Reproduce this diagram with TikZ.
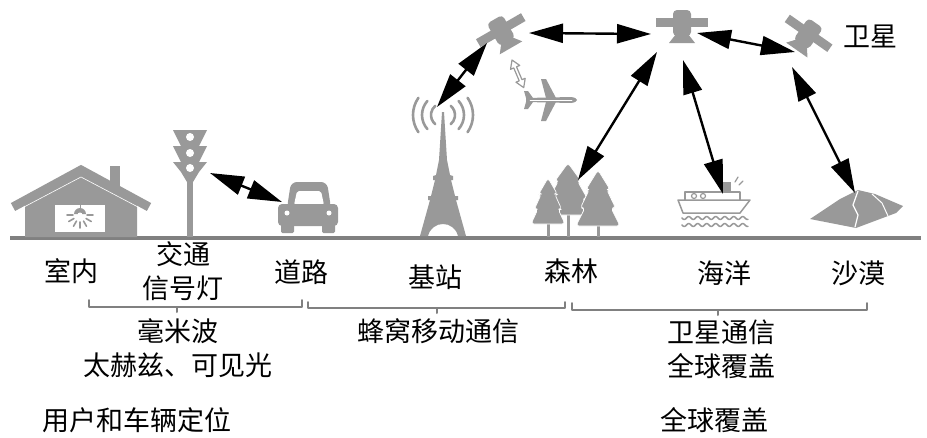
\documentclass[tikz,border=0pt]{standalone}
\usepackage{fontspec}
\usetikzlibrary{arrows.meta}
\newfontfamily\cjk{Noto Sans CJK SC}
\definecolor{ikoni}{gray}{0.6}
\definecolor{maa}{gray}{0.5}

\tikzset{
  lbl/.style={font=\cjk\fontsize{27}{34}\selectfont, align=center, inner sep=0pt},
  link/.style={{Triangle[length=34pt,width=19pt]}-{Triangle[length=34pt,width=19pt]}, line width=2.4pt, black},
  brace/.style={maa, line width=2pt},
}

\begin{document}
\begin{tikzpicture}[line cap=round,line join=round,x=1pt,y=-1pt]
\useasboundingbox (0,0) rectangle (927,437);

%maa
\draw[maa,line width=4pt,line cap=butt] (10,238)--(921,238);

%talo
\fill[ikoni] (25,237)--(25,200)--(81,172)--(137,200)--(137,237)--cycle;
\fill[ikoni] (110,166) rectangle (120,195);
\draw[ikoni,line width=9pt,line cap=butt,line join=miter] (13,207)--(81,170)--(149,207);
\draw[white,line width=0.6pt] (24,207)--(81,177)--(138,207);
\fill[white] (55,205) rectangle (105,232);
\draw[ikoni,line width=1pt] (80,205)--(80,209);
\fill[ikoni] (74,214) arc (180:360:6) -- cycle;
\fill[white] (80,215) circle (2.5);
\foreach \a in {0,30,...,180}
  \draw[ikoni,line width=1.6pt,shift={(80,215)}] (\a:7)--(\a:13);

%liikennevalo
\fill[ikoni] (187,178) rectangle (193,237);
\foreach \y in {130,146}
  \fill[ikoni] (173,\y)--(207,\y)--(199,\y+16)--(181,\y+16)--cycle;
\fill[ikoni] (173,162)--(207,162)--(199,172)--(193,182)--(187,182)--(181,172)--cycle;
\foreach \y in {137,153,168}
  \fill[white] (190,\y) circle (4);

%auto
\fill[ikoni,rounded corners=6pt] (287,208)--(291,182)--(327,182)--(331,208)--cycle;
\fill[white,rounded corners=2pt] (294,205)--(297,191)--(321,191)--(324,205)--cycle;
\fill[ikoni,rounded corners=4pt] (278,204) rectangle (338,226);
\fill[ikoni,rounded corners=1.5pt] (281,220) rectangle (294,233);
\fill[ikoni,rounded corners=1.5pt] (322,220) rectangle (335,233);
\foreach \x in {287,329}
  \fill[white] (\x,213) circle (2.5);

%masto
\fill[ikoni] (442,112)--(444,112)--(447,160)--(450,175)--(453,176)--(453,180)--(451,180)--(455,196)--(458,196)--(458,200)--(456,200)--(466,236)--(458,236) .. controls (454,220) and (432,220) .. (428,236)--(420,236)--(430,200)--(428,200)--(428,196)--(431,196)--(435,180)--(433,180)--(433,176)--(436,175)--(439,160)--cycle;
\foreach \r/\a in {12/50,21/42,30/35}
{
\draw[ikoni,line width=2.6pt] (443,115) ++(-\a:\r) arc (-\a:\a:\r);
\draw[ikoni,line width=2.6pt] (443,115) ++(180-\a:\r) arc (180-\a:180+\a:\r);
}

%satelliitit
\foreach \sx/\sy/\rot in {503/34/30, 682/27/0, 806/37/-35}
{
\begin{scope}[shift={(\sx,\sy)},rotate=\rot]
\fill[ikoni] (-26,-9) rectangle (26,0);
\fill[ikoni,rounded corners=4pt] (-9,-17) rectangle (9,9);
\fill[ikoni] (-6,7)--(6,7)--(13,16)--(-13,16)--cycle;
\end{scope}
}
\node[lbl] (weixing) at (870,36) {卫星};

%lentokone
\fill[ikoni] (526,98)--(571,97) .. controls (579,98) and (579,102) .. (571,103)--(526,102)--cycle;
\fill[ikoni] (556,98)--(546,79)--(541,79)--(546,98)--cycle;
\fill[ikoni] (556,102)--(546,121)--(541,121)--(546,102)--cycle;
\fill[ikoni] (533,98)--(528,91)--(524,91)--(526,98)--cycle;
\fill[ikoni] (533,102)--(528,109)--(524,109)--(526,102)--cycle;
\draw[white,line width=0.5pt] (530,100)--(572,100);

%pieni nuoli
\begin{scope}[shift={(512,60)},rotate=-67]
\draw[ikoni,line width=1.2pt,fill=white] (0,0)--(8,-5)--(8,-1.5)--(22,-1.5)--(22,-5)--(30,0)--(22,5)--(22,1.5)--(8,1.5)--(8,5)--cycle;
\end{scope}

%metsa
\foreach \tx/\ty/\h/\w in {568/163/52/24, 548/178/46/17, 598/170/56/22}
{
\fill[ikoni] (\tx-1.5,\ty+\h-3) rectangle (\tx+1.5,237);
\fill[ikoni,draw=white,line width=0.7pt,rounded corners=3pt] (\tx,\ty)
  --(\tx+0.55*\w,\ty+0.35*\h)--(\tx+0.4*\w,\ty+0.35*\h)
  --(\tx+0.8*\w,\ty+0.68*\h)--(\tx+0.6*\w,\ty+0.68*\h)
  --(\tx+\w,\ty+\h)--(\tx-\w,\ty+\h)
  --(\tx-0.6*\w,\ty+0.68*\h)--(\tx-0.8*\w,\ty+0.68*\h)
  --(\tx-0.4*\w,\ty+0.35*\h)--(\tx-0.55*\w,\ty+0.35*\h)--cycle;
}

%laiva
\fill[ikoni] (722,182) rectangle (731,194);
\draw[ikoni,line width=1.2pt] (735,182)--(738,177) (739,185)--(743,181);
\draw[ikoni,line width=1.5pt,fill=white] (685,200)--(685,192)--(740,192)--(740,200);
\foreach \x in {694,703}
  \draw[ikoni,line width=1.2pt] (\x,196) circle (2.5);
\draw[ikoni,line width=1.5pt,fill=white] (678,200)--(750,200)--(740,213)--(683,213)--cycle;
\foreach \w in {218,225}
  \draw[ikoni,line width=1.5pt] plot[domain=0:66,samples=60] (682+\x,{\w+1.5*sin(40*\x)});

%aavikko
\fill[ikoni] (810,219)--(840,199)--(858,190)--(875,194)--(903,206)--(896,213)--(856,228)--cycle;
\draw[white,line width=1.2pt] (858,191)--(853,205)--(858,215)--(855,227);
\draw[white,line width=1pt] (872,194)--(882,203)--(888,216);

%nuolten paat
\coordinate (valo) at (210,173);
\coordinate (auto) at (282,202);
\coordinate (sat1a) at (487,43);
\coordinate (masto) at (437,107);
\coordinate (sat1b) at (529,33);
\coordinate (sat2a) at (651,34);
\coordinate (sat2b) at (657,52);
\coordinate (metsa) at (578,180);
\coordinate (sat2c) at (683,60);
\coordinate (laiva) at (723,194);
\coordinate (sat2d) at (697,33);
\coordinate (sat3a) at (795,52);
\coordinate (sat3b) at (792,67);
\coordinate (aavikko) at (855,193);

\draw[link] (valo)--(auto);
\draw[link] (sat1a)--(masto);
\draw[link] (sat1b)--(sat2a);
\draw[link] (sat2b)--(metsa);
\draw[link] (sat2c)--(laiva);
\draw[link] (sat2d)--(sat3a);
\draw[link] (sat3b)--(aavikko);

%paikat
\node[lbl] (shinei) at (71,271) {室内};
\node[lbl] (jiaotong) at (183,271) {交通\\信号灯};
\node[lbl] (daolu) at (301,272) {道路};
\node[lbl] (jizhan) at (435,277) {基站};
\node[lbl] (senlin) at (571,271) {森林};
\node[lbl] (haiyang) at (724,273) {海洋};
\node[lbl] (shamo) at (858,273) {沙漠};

%sulut
\draw[brace] (89,300)--(89,307)--(302,307)--(302,300) (177,307)--(177,312);
\draw[brace] (308,302)--(308,308)--(565,308)--(565,302) (437,308)--(437,313);
\draw[brace] (572,303)--(572,310)--(867,310)--(867,303) (718,310)--(718,315);

%tekniikat
\node[lbl] (haomibo) at (178,348) {毫米波\\太赫兹、可见光};
\node[lbl] (fengwo) at (438,331) {蜂窝移动通信};
\node[lbl] (weixingtx) at (721,349) {卫星通信\\全球覆盖};
\node[lbl] (dingwei) at (137,420) {用户和车辆定位};
\node[lbl] (fugai) at (714,420) {全球覆盖};
\end{tikzpicture}
\end{document}
